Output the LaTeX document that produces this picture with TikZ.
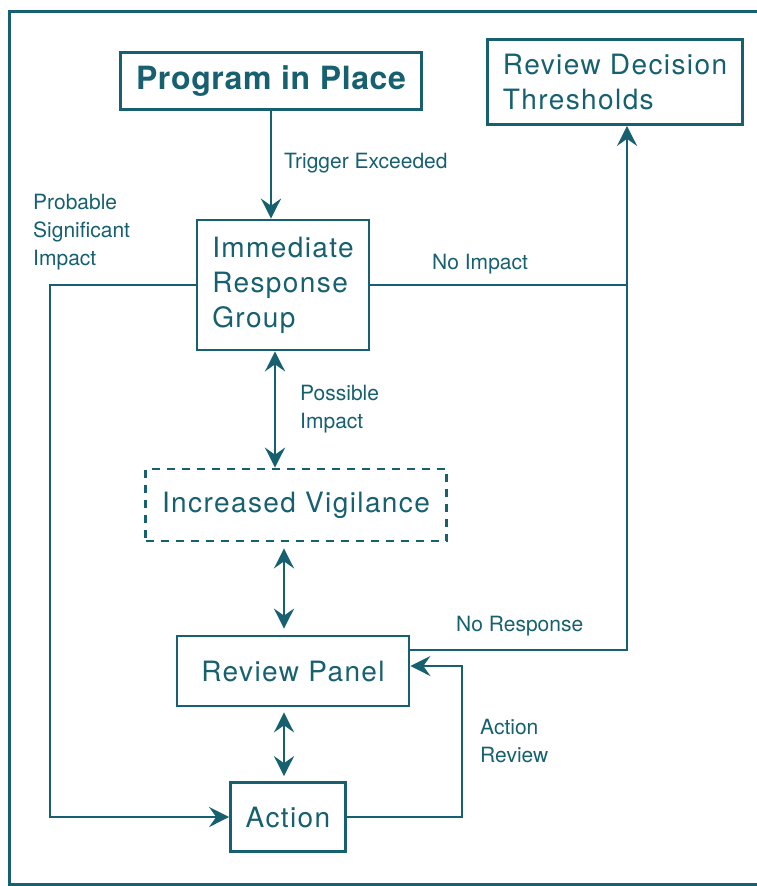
\documentclass[tikz,border=0pt]{standalone}
\usepackage{fontspec}
\setsansfont{TeX Gyre Heros}
\newfontfamily\boxfont[LetterSpace=5]{TeX Gyre Heros}
\newfontfamily\titlefont[LetterSpace=2]{TeX Gyre Heros}
\usetikzlibrary{arrows.meta}
\definecolor{flowteal}{RGB}{22,96,112}
\begin{document}
\begin{tikzpicture}[x=1pt,y=-1pt,font=\sffamily,color=flowteal,text=flowteal]
  \tikzset{box/.style = {draw,line width=2.7pt,inner sep=0pt,font=\boxfont\fontsize{28}{35}\selectfont}}
  \tikzset{lbl/.style = {anchor=west,align=left,inner sep=0pt,font=\sffamily\fontsize{21}{28}\selectfont}}
  \tikzset{arr/.style = {line width=2.7pt,-{Stealth[length=20pt,width=20pt,inset=7pt]}}}
  \tikzset{dbl/.style = {line width=2.7pt,{Stealth[length=20pt,width=20pt,inset=7pt]}-{Stealth[length=20pt,width=20pt,inset=7pt]}}}
  \useasboundingbox (0,0) rectangle (757,886);
  \draw[line width=3pt] (9,11) rectangle (790,884);
  % boxes
  \node[box,minimum width=301pt,minimum height=57pt,font=\titlefont\bfseries\fontsize{32}{35}\selectfont] (prog) at (271,81) {Program in Place};
  \node[box,minimum width=255pt,minimum height=85pt,align=left] (rdt) at (615,82) {Review Decision\\Thresholds};
  \node[box,minimum width=172pt,minimum height=130pt,align=left] (irg) at (283,285) {Immediate\\Response\\Group};
  \node[box,dash pattern=on 8pt off 7pt,minimum width=301pt,minimum height=72pt] (iv) at (296,505) {Increased Vigilance};
  \node[box,minimum width=232pt,minimum height=70pt] (rp) at (293,671) {Review Panel};
  \node[box,minimum width=115pt,minimum height=69pt] (act) at (288,817) {Action};
  % routing points
  \coordinate (lx) at (50,0);
  \coordinate (rx) at (627,0);
  \coordinate (ax) at (462,0);
  \coordinate (ux) at (275,0);
  \coordinate (dx) at (284,0);
  \coordinate (rpout) at ([yshift=21pt]rp.east);
  \coordinate (rpin) at ([yshift=5pt]rp.east);
  % connectors
  \draw[arr] (prog.south) -- (prog.south |- irg.north);
  \draw[arr] (irg.west) -| (lx |- irg.west) |- (act.west);
  \draw[arr] (irg.east) -| (rx |- rdt.south);
  \draw[line width=2.7pt] (rpout) -| (rx |- irg.east);
  \draw[arr] (act.east) -| (ax |- rpin) -- (rpin);
  \draw[dbl] (ux |- irg.south) -- (ux |- iv.north);
  \draw[dbl,shorten <=6pt,shorten >=6pt] (dx |- iv.south) -- (dx |- rp.north);
  \draw[dbl,shorten <=5pt,shorten >=5pt] (dx |- rp.south) -- (dx |- act.north);
  % labels
  \node[lbl] (trig) at (284,163) {Trigger Exceeded};
  \node[lbl] (prob) at (33,232) {Probable\\Significant\\Impact};
  \node[lbl] (noimp) at (432,264) {No Impact};
  \node[lbl] (poss) at (300,409) {Possible\\Impact};
  \node[lbl] (nores) at (456,626) {No Response};
  \node[lbl] (actrev) at (480,741) {Action\\Review};
\end{tikzpicture}
\end{document}
